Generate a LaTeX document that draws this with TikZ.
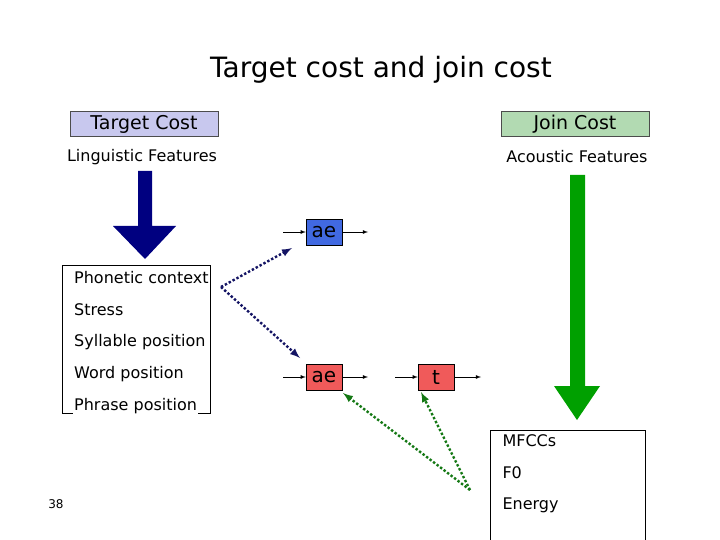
\documentclass[tikz,border=0pt]{standalone}
\usepackage{fontspec}
\setmainfont{DejaVu Sans}
\begin{document}
\begin{tikzpicture}[x=1pt,y=-1pt,
  lab/.style={draw=black!70,minimum width=148pt,minimum height=24pt,font=\fontsize{19}{20}\selectfont},
  ph/.style={draw=black,minimum width=36pt,minimum height=26pt,inner sep=0pt,font=\fontsize{20}{20}\selectfont},
  sm/.style={-latex,line width=0.8pt},
  dot/.style={line width=2.4pt,dotted,-latex}]
\useasboundingbox (0,0) rectangle (720,540);
\node[font=\fontsize{28}{30}\selectfont] (title) at (381,70) {Target cost and join cost};
\node[lab,fill={rgb,255:red,200;green,200;blue,238}] (tc) at (144,124) {Target Cost};
\node[lab,fill={rgb,255:red,178;green,218;blue,178}] (jc) at (575,124) {Join Cost};
\node[font=\fontsize{16}{17}\selectfont] (lf) at (142,157) {Linguistic Features};
\node[font=\fontsize{16}{17}\selectfont] (af) at (577,157) {Acoustic Features};
\fill[fill={rgb,255:red,0;green,0;blue,128}] (138,171) -- (152,171) -- (152,226) -- (176,226) -- (145,259) -- (113,226) -- (138,226) -- cycle;
\fill[fill={rgb,255:red,0;green,160;blue,0}] (570,175) -- (585,175) -- (585,386) -- (600,386) -- (577,420) -- (554,386) -- (570,386) -- cycle;
\node[draw,minimum width=148pt,minimum height=148pt,anchor=north west,inner sep=0pt] (pbox) at (62,265) {};
\begin{scope}[every node/.style={anchor=west,font=\fontsize{16}{17}\selectfont,fill=white,inner sep=1pt}]
\node (p1) at (73,278) {Phonetic context};
\node (p2) at (73,310) {Stress};
\node (p3) at (73,342) {Syllable position};
\node (p4) at (73,374) {Word position};
\node (p5) at (73,406) {Phrase position};
\end{scope}
\draw (490,540) |- (645,430) -- (645,540);
\begin{scope}[every node/.style={anchor=west,font=\fontsize{16}{17}\selectfont}]
\node (m1) at (499,441) {MFCCs};
\node (m2) at (499,473) {F0};
\node (m3) at (499,505) {Energy};
\end{scope}
\node[font=\fontsize{12}{13}\selectfont] (num) at (56,504) {38};
\node[ph,fill={rgb,255:red,65;green,105;blue,225}] (a1) at (324,232) {ae};
\node[ph,fill={rgb,255:red,240;green,90;blue,90}] (a2) at (324,377) {ae};
\node[ph,fill={rgb,255:red,240;green,90;blue,90}] (t) at (436,377) {t};
\coordinate (a1i) at (283,232); \coordinate (a1o) at (368,232);
\coordinate (a2i) at (283,377); \coordinate (a2o) at (368,377);
\coordinate (ti) at (395,377); \coordinate (to) at (481,377);
\draw[sm] (a1i) -- (a1.west); \draw[sm] (a1.east) -- (a1o);
\draw[sm] (a2i) -- (a2.west); \draw[sm] (a2.east) -- (a2o);
\draw[sm] (ti) -- (t.west); \draw[sm] (t.east) -- (to);
\coordinate (s1) at (221,287);
\coordinate (g0) at (470,490);
\draw[dot,draw={rgb,255:red,20;green,20;blue,100}] (s1) -- (292,248);
\draw[dot,draw={rgb,255:red,20;green,20;blue,100}] (s1) -- (300,358);
\draw[dot,draw={rgb,255:red,20;green,120;blue,20}] (g0) -- (343,393);
\draw[dot,draw={rgb,255:red,20;green,120;blue,20}] (g0) -- (421,392);
\end{tikzpicture}
\end{document}
